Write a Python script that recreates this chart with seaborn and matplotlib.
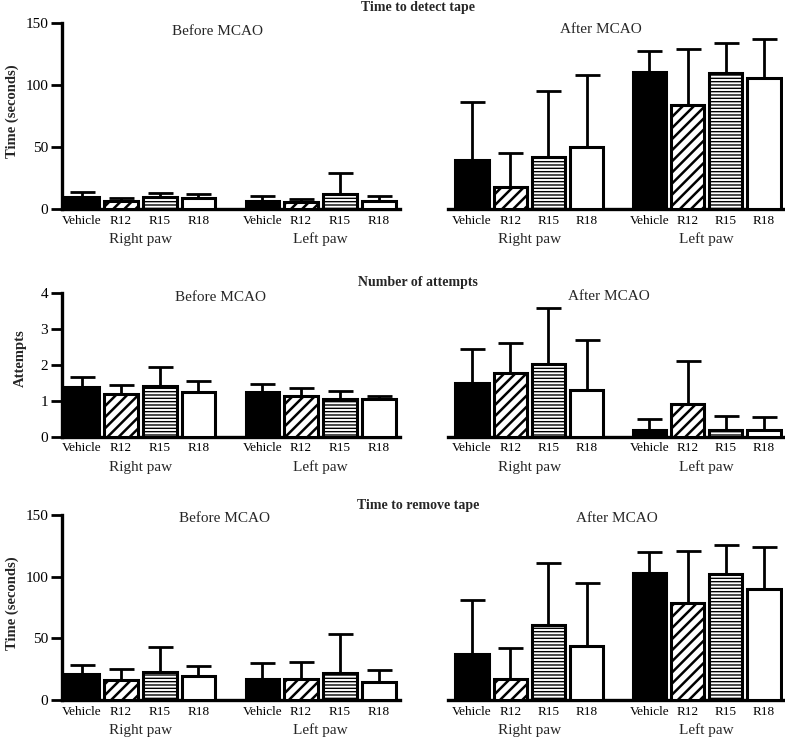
import numpy as np
import pandas as pd
import matplotlib
matplotlib.use('Agg')
import matplotlib.pyplot as plt
import seaborn as sns

sns.set_theme(style='white')
plt.rcParams['font.family'] = ['Liberation Serif', 'DejaVu Serif']
plt.rcParams['hatch.linewidth'] = 1.6

drugs = ['Vehicle', 'R12', 'R15', 'R18']
paws = ['Right paw', 'Left paw']

# Time to detect tape (s): mean and upper SD, right paw then left paw
detect_before_mean = [9.4, 6.7, 9.4, 8.6, 6.7, 5.9, 11.8, 6.7]
detect_before_sd = [4.6, 2.3, 3.6, 3.2, 3.8, 2.1, 17.2, 3.8]
detect_after_mean = [39.6, 18.0, 42.3, 50.4, 110.4, 84.0, 109.6, 105.6]
detect_after_sd = [47.1, 27.0, 53.3, 57.6, 17.6, 45.5, 24.8, 31.4]

# Number of attempts
attempts_before_mean = [1.37, 1.19, 1.41, 1.25, 1.24, 1.13, 1.06, 1.04]
attempts_before_sd = [0.28, 0.25, 0.53, 0.30, 0.23, 0.21, 0.21, 0.09]
attempts_after_mean = [1.48, 1.76, 2.01, 1.31, 0.20, 0.91, 0.18, 0.18]
attempts_after_sd = [0.96, 0.84, 1.57, 1.39, 0.30, 1.20, 0.39, 0.36]

# Time to remove tape (s)
remove_before_mean = [20.8, 16.2, 22.7, 19.8, 17.3, 17.3, 22.2, 14.4]
remove_before_sd = [7.4, 8.7, 20.3, 7.8, 12.5, 13.3, 31.1, 10.0]
remove_after_mean = [37.1, 16.8, 61.0, 44.1, 102.9, 78.5, 102.0, 90.2]
remove_after_sd = [44.1, 25.2, 50.6, 51.2, 17.1, 42.5, 23.6, 34.4]

rows = [
    ('Time to detect tape', 'Time (seconds)', [0, 150], [0, 50, 100, 150],
     (detect_before_mean, detect_before_sd), (detect_after_mean, detect_after_sd)),
    ('Number of attempts', 'Attempts', [0, 4], [0, 1, 2, 3, 4],
     (attempts_before_mean, attempts_before_sd), (attempts_after_mean, attempts_after_sd)),
    ('Time to remove tape', 'Time (seconds)', [0, 150], [0, 50, 100, 150],
     (remove_before_mean, remove_before_sd), (remove_after_mean, remove_after_sd)),
]

# bar positions: two groups of four with a gap
pos = np.array([0, 1, 2, 3, 4.65, 5.65, 6.65, 7.65])
faces = {'Vehicle': ('black', '', 1.6), 'R12': ('white', '///', 1.8),
         'R15': ('white', '-----', 1.0), 'R18': ('white', '', 1.6)}

W, H = 785, 742
fig = plt.figure(figsize=(W / 100, H / 100), dpi=100)

# axes boxes in pixels: (top, bottom) for each row
row_px = [(23.3, 209), (292.7, 436.7), (515.3, 700)]
col_px = [(62, 400), (448, 783)]
title_y = [8, 283, 505]
ylab_y = [111, 358, 603]
ylab_x = [12, 20, 12]
sub_pos = [[(0.46, 0.955), (0.457, 0.965)],
           [(0.47, 0.97), (0.48, 0.975)],
           [(0.48, 0.985), (0.505, 0.98)]]
xlims = [(-0.52, 8.2), (-0.63, 8.15)]

for r, (title, ylab, ylim, yticks, before, after) in enumerate(rows):
    top, bot = row_px[r]
    for c, (mean, sd) in enumerate([before, after]):
        x0, x1 = col_px[c]
        ax = fig.add_axes([x0 / W, 1 - bot / H, (x1 - x0) / W, (bot - top) / H])
        df = pd.DataFrame({'pos': pos, 'mean': mean, 'sd': sd,
                           'drug': drugs * 2})
        sns.barplot(data=df, x='pos', y='mean', native_scale=True, width=0.87,
                    errorbar=None, color='white', edgecolor='black',
                    linewidth=2.2, ax=ax, zorder=3)
        for p in ax.patches:
            xc = p.get_x() + p.get_width() / 2
            d = df['drug'].iloc[int(np.argmin(np.abs(pos - xc)))]
            fc, h, hlw = faces[d]
            p.set_facecolor(fc)
            p.set_hatch(h)
            if hasattr(p, 'set_hatch_linewidth'):
                p.set_hatch_linewidth(hlw)
        ax.errorbar(df['pos'], df['mean'], yerr=[np.zeros(len(df)), df['sd']],
                    fmt='none', ecolor='black', elinewidth=2, capsize=9,
                    capthick=2, zorder=2)
        ax.set_xlim(*xlims[c])
        ax.set_ylim(*ylim)
        ax.set_xlabel('')
        ax.set_ylabel('')
        ax.set_xticks(pos)
        ax.set_xticklabels(drugs * 2, fontsize=9.5)
        ax.tick_params(axis='x', length=0, pad=4, colors='black')
        for s in ['top', 'right']:
            ax.spines[s].set_visible(False)
        ax.spines['bottom'].set_linewidth(2.4)
        ax.spines['bottom'].set_color('black')
        if c == 0:
            ax.spines['left'].set_linewidth(2.4)
            ax.spines['left'].set_color('black')
            ax.set_yticks(yticks)
            ax.set_yticklabels([str(t) for t in yticks], fontsize=11)
            ax.tick_params(axis='y', length=8, width=2, pad=2, left=True,
                           direction='out', colors='black')
        else:
            ax.spines['left'].set_visible(False)
            ax.set_yticks([])
        for g, paw in enumerate(paws):
            ax.annotate(paw, xy=(pos[g * 4:(g + 1) * 4].mean(), 0),
                        xycoords=('data', 'axes fraction'), xytext=(0, -22),
                        textcoords='offset points', ha='center', va='center',
                        fontsize=11)
        sx, sy = sub_pos[r][c]
        ax.text(sx, sy, 'Before MCAO' if c == 0 else 'After MCAO',
                transform=ax.transAxes, ha='center', va='center', fontsize=11)
        ax.patch.set_alpha(0)
    fig.text(418 / W, 1 - title_y[r] / H, title, ha='center', va='center',
             fontsize=10, fontweight='bold')
    fig.text(ylab_x[r] / W, 1 - ylab_y[r] / H, ylab, ha='center', va='center',
             rotation=90, fontsize=10.5, fontweight='bold')

fig.savefig('out.png', dpi=100, facecolor='white')
